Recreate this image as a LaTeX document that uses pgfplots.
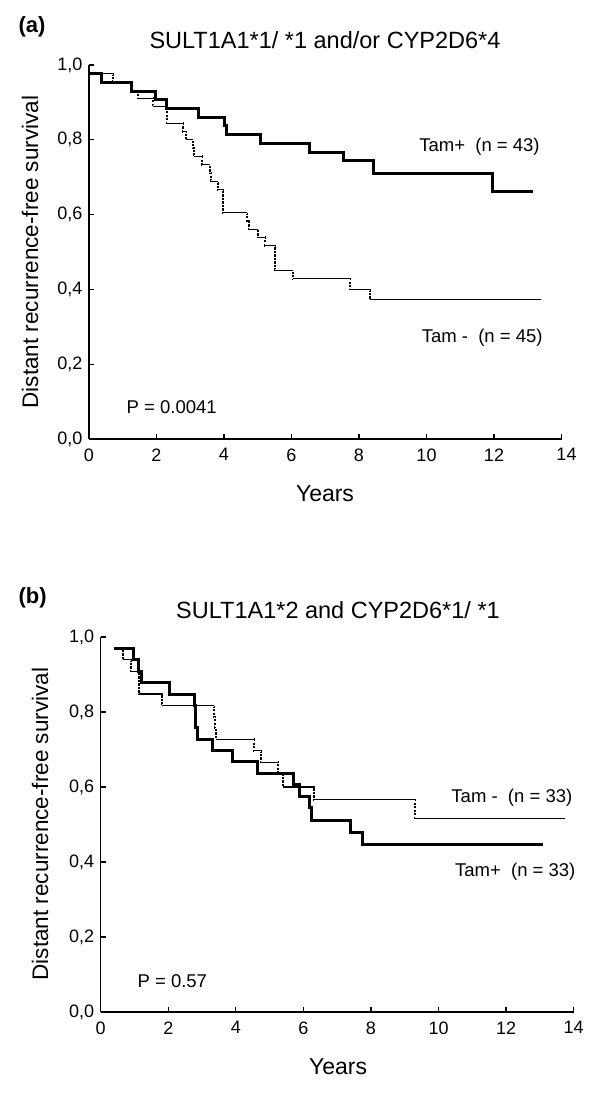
\documentclass[border=0pt]{standalone}
\usepackage{fontspec}
\setmainfont{Liberation Sans}
\usepackage{pgfplots}
\usepackage{pgfplotstable}
\pgfplotsset{compat=1.18}

% Panel (a)
\pgfplotstableread{
t S
0 0.977
0.38 0.953
1.27 0.930
1.98 0.907
2.30 0.884
3.24 0.860
4.00 0.837
4.06 0.814
5.08 0.791
6.53 0.767
7.55 0.744
8.42 0.709
11.97 0.663
13.15 0.663
}\aplus
\pgfplotstableread{
t S
0 0.978
0.72 0.956
1.28 0.933
1.45 0.911
1.90 0.889
2.30 0.844
2.78 0.822
2.88 0.800
3.08 0.778
3.12 0.756
3.35 0.733
3.58 0.711
3.60 0.689
3.82 0.667
3.98 0.605
4.68 0.583
4.75 0.561
5.00 0.539
5.22 0.517
5.52 0.450
6.05 0.428
7.72 0.400
8.32 0.372
13.40 0.372
}\aminus
% Panel (b)
\pgfplotstableread{
t S
0.40 0.970
0.97 0.939
1.12 0.909
1.22 0.879
2.05 0.848
2.78 0.818
2.82 0.758
2.86 0.727
3.31 0.697
3.90 0.667
4.65 0.636
5.72 0.606
5.87 0.576
6.17 0.545
6.24 0.510
7.38 0.479
7.75 0.447
13.10 0.447
}\bplus
\pgfplotstableread{
t S
0.40 0.970
0.66 0.939
0.90 0.909
1.12 0.848
1.80 0.818
3.36 0.788
3.38 0.758
3.40 0.727
4.55 0.697
4.73 0.666
5.26 0.636
5.40 0.600
6.30 0.566
9.30 0.517
13.75 0.517
}\bminus

\pgfplotsset{
  kmaxis/.style={
    scale only axis,
    xmin=0, xmax=14, ymin=0, ymax=1,
    axis lines=left,
    axis line style={-, line width=1.4pt},
    axis on top,
    clip=false,
    tick align=inside,
    major tick length=5pt,
    tick style={line width=1.3pt, black},
    xtick={0,2,4,6,8,10,12,14},
    ytick={0,0.2,0.4,0.6,0.8,1},
    yticklabels={{0,0},{0,2},{0,4},{0,6},{0,8},{1,0}},
    tick label style={font=\fontsize{18}{20}\selectfont},
    yticklabel style={xshift=-3pt},
    xticklabel style={yshift=-6pt},
  },
  dotpart/.style={black, line width=2pt, dash pattern=on 2.2pt off 1.3pt, const plot mark left, no marks},
  erase/.style={white, line width=2.6pt, jump mark left, no marks},
  thinpart/.style={black, line width=1.1pt, jump mark left, no marks},
  thickpart/.style={black, line width=3pt, const plot mark left, no marks},
}
\tikzset{ann/.style={font=\fontsize{18.5}{22}\selectfont, anchor=center}}

\begin{document}
\begin{tikzpicture}[x=1pt,y=1pt]
\path[use as bounding box] (0,0) rectangle (600,-1096);

% ---------- Panel (a)
\begin{axis}[kmaxis,
  width=472.5pt, height=374pt,
  at={(89pt,-439pt)}, anchor=south west,
  xticklabels={0,2,4,6,8,10,12,{\raisebox{-6pt}{\hspace*{10pt}14}}},
]
\addplot[dotpart] table {\aminus};
\addplot[erase] table {\aminus};
\addplot[thinpart] table {\aminus};
\addplot[thickpart] table {\aplus};
\node[ann] at (axis cs:11.57,0.782) {Tam+\ \ (n = 43)};
\node[ann] at (axis cs:11.65,0.272) {Tam -\ \ (n = 45)};
\node[ann] at (axis cs:2.45,0.085) {P = 0.0041};
\end{axis}
\node[anchor=west, font=\fontsize{22}{26}\selectfont\bfseries] at (15,-27) {(a)};
\node[font=\fontsize{23.5}{28}\selectfont] at (325,-40) {SULT1A1*1/ *1 and/or CYP2D6*4};
\node[font=\fontsize{23}{28}\selectfont] at (325,-494) {Years};
\node[font=\fontsize{22.5}{28}\selectfont, rotate=90] at (30,-252) {Distant recurrence-free survival};

% ---------- Panel (b)
\begin{axis}[kmaxis,
  width=473pt, height=375pt,
  at={(100.7pt,-1012pt)}, anchor=south west,
  xticklabels={0,2,4,6,8,10,12,14},
]
\addplot[dotpart] table {\bminus};
\addplot[erase] table {\bminus};
\addplot[thinpart] table {\bminus};
\addplot[thickpart] table {\bplus};
\node[ann] at (axis cs:12.17,0.572) {Tam -\ \ (n = 33)};
\node[ann] at (axis cs:12.27,0.374) {Tam+\ \ (n = 33)};
\node[ann] at (axis cs:2.12,0.083) {P = 0.57};
\end{axis}
\node[anchor=west, font=\fontsize{22}{26}\selectfont\bfseries] at (15,-598) {(b)};
\node[font=\fontsize{23.5}{28}\selectfont] at (338,-610) {SULT1A1*2 and CYP2D6*1/ *1};
\node[font=\fontsize{23}{28}\selectfont] at (338,-1067) {Years};
\node[font=\fontsize{22.5}{28}\selectfont, rotate=90] at (40,-824) {Distant recurrence-free survival};
\end{tikzpicture}
\end{document}
